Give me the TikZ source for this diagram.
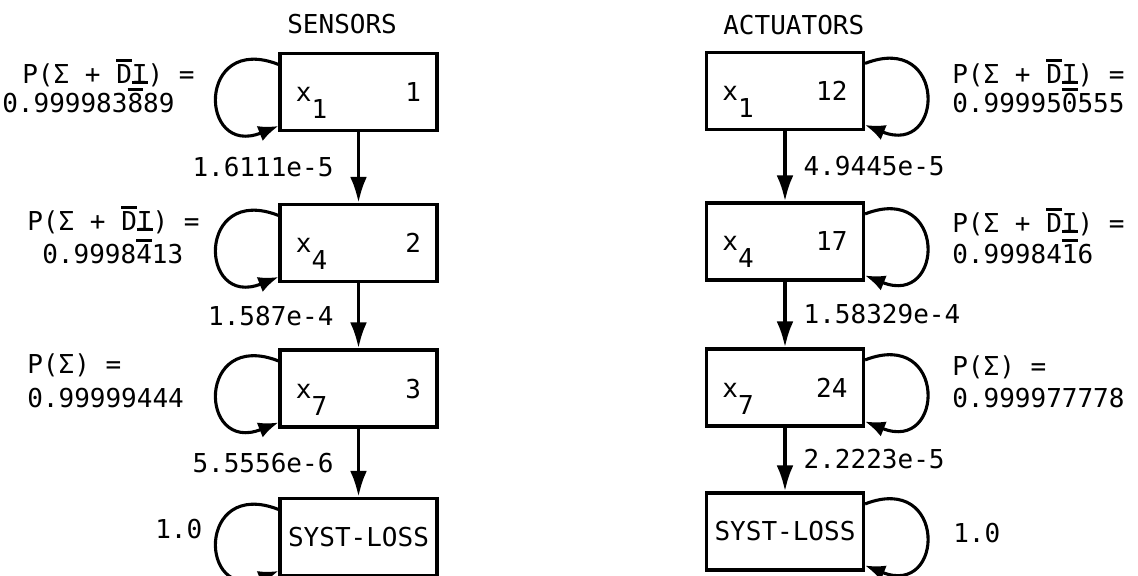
\documentclass[tikz,border=0pt]{standalone}
\usepackage{fontspec}
\setmainfont{DejaVu Sans Mono}
\usetikzlibrary{arrows.meta, calc, positioning}
\tikzset{
    statebox/.style={rectangle, draw, line width=2.2pt, minimum width=3.925cm, minimum height=1.925cm, inner xsep=0.4cm, text width=3.125cm, text depth=0pt},
    lossbox/.style={rectangle, draw, line width=2.2pt, minimum width=3.925cm, minimum height=1.925cm, inner xsep=0pt},
    stepArrow/.style={-{Latex[length=0.65cm, width=0.42cm]}, line width=2.6pt},
    loopArrow/.style={-{Latex[length=0.5cm, width=0.4cm]}, line width=2.2pt},
    probtext/.style={anchor=base west, inner sep=0pt},
    ratetext/.style={inner sep=0pt},
}
% full size index, set lower than the variable
\newcommand{\idxlow}[1]{\raisebox{-0.65em}{#1}}
% bar above / below one character
\newcommand{\ovr}[1]{\leavevmode\rlap{\raisebox{0.82em}{\rule{0.6em}{1.8pt}}}#1}
\newcommand{\und}[1]{\leavevmode\rlap{\raisebox{-0.03em}{\rule{0.6em}{1.8pt}}}#1}
\newcommand{\probLine}[4]{
    \node[probtext] (#1) at (#2,#3) {#4};
}
\newcommand{\drawStep}[4]{
    \draw[stepArrow] (#1) -- node[ratetext, #3] {#4} (#2);
}
% self loops on the left or the right side of a box
\newcommand{\loopLeft}[1]{
    \draw[loopArrow] (#1.161) .. controls +(-82,-32) and +(-80,32) .. (#1.203);
}
\newcommand{\loopRight}[1]{
    \draw[loopArrow] (#1.19) .. controls +(82,-32) and +(80,32) .. (#1.337);
}

\begin{document}
\begin{tikzpicture}[x=0.025cm, y=-0.025cm, font=\fontsize{18.5pt}{22pt}\selectfont]
        \useasboundingbox (0,0) rectangle (1138,575);

        \node[probtext] (sensHead) at (287,33) {SENSORS};
        \node[probtext] (actHead) at (723,34) {ACTUATORS};

        % sensor chain
        \node[statebox] (S1) at (358.5,92) {x\idxlow{1}\hfill 1};
        \node[statebox] (S2) at (358.5,243) {x\idxlow{4}\hfill 2};
        \node[statebox] (S3) at (358.5,388.5) {x\idxlow{7}\hfill 3};
        \node[lossbox] (SL) at (358.5,537) {SYST-LOSS};

        % actuator chain
        \node[statebox] (A1) at (785,91) {x\idxlow{1}\hfill 12};
        \node[statebox] (A2) at (785,241.5) {x\idxlow{4}\hfill 17};
        \node[statebox] (A3) at (785,387.5) {x\idxlow{7}\hfill 24};
        \node[lossbox] (AL) at (785,531.5) {SYST-LOSS};

        \drawStep{S1}{S2}{left=0.58cm}{1.6111e-5}
        \drawStep{S2}{S3}{left=0.58cm}{1.587e-4}
        \drawStep{S3}{SL}{left=0.58cm}{5.5556e-6}
        \drawStep{A1}{A2}{right=0.42cm}{4.9445e-5}
        \drawStep{A2}{A3}{right=0.42cm}{1.58329e-4}
        \drawStep{A3}{AL}{right=0.42cm}{2.2223e-5}

        \loopLeft{S1}
        \loopLeft{S2}
        \loopLeft{S3}
        \loopLeft{SL}
        \loopRight{A1}
        \loopRight{A2}
        \loopRight{A3}
        \loopRight{AL}

        % staying probabilities
        \probLine{sProbA}{22}{83}{P(Σ + \ovr{D}\und{I}) =}
        \probLine{sProbAv}{2}{112}{0.999983\ovr{8}89}
        \probLine{sProbB}{27}{230}{P(Σ + \ovr{D}\und{I}) =}
        \probLine{sProbBv}{42}{263}{0.9998\ovr{4}13}
        \probLine{sProbC}{27}{373}{P(Σ) =}
        \probLine{sProbCv}{27}{407}{0.99999444}
        \probLine{sProbL}{155}{538}{1.0}

        \probLine{aProbA}{952}{83}{P(Σ + \ovr{D}\und{I}) =}
        \probLine{aProbAv}{952}{112}{0.99995\ovr{0}555}
        \probLine{aProbB}{952}{232}{P(Σ + \ovr{D}\und{I}) =}
        \probLine{aProbBv}{952}{263}{0.99984\ovr{1}6}
        \probLine{aProbC}{952}{375}{P(Σ) =}
        \probLine{aProbCv}{952}{407}{0.999977778}
        \probLine{aProbL}{953}{542}{1.0}

    \end{tikzpicture}
\end{document}
